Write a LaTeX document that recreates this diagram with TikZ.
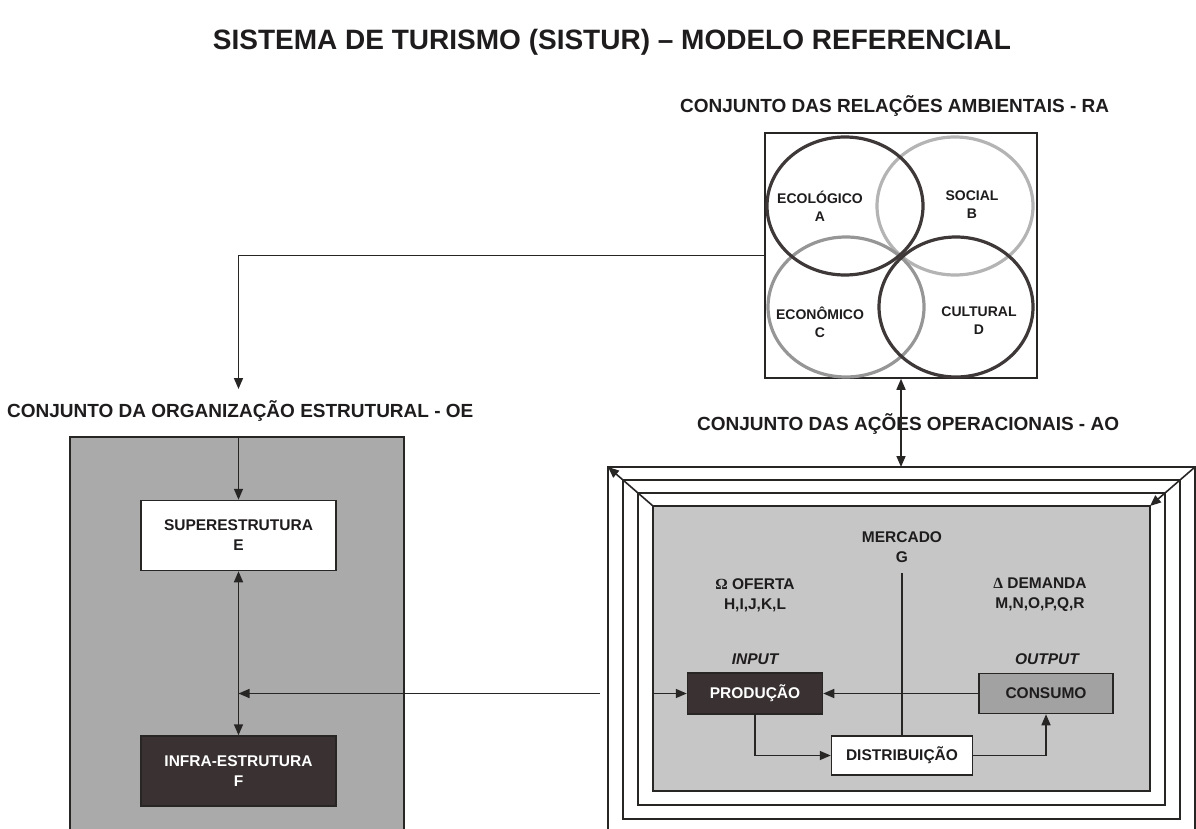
\documentclass[tikz,border=0pt]{standalone}
\usepackage{fontspec}
\setmainfont{Liberation Sans}
\newfontfamily\grkfont{Liberation Serif}
\usetikzlibrary{arrows.meta}

\definecolor{linecol}{RGB}{40,37,37}
\definecolor{txtcol}{RGB}{30,28,28}
\definecolor{oegray}{RGB}{170,170,170}
\definecolor{aogray}{RGB}{198,198,198}
\definecolor{darkbox}{RGB}{58,50,50}
\definecolor{midbox}{RGB}{162,162,162}
\definecolor{ringdark}{RGB}{62,56,56}
\definecolor{ringmid}{RGB}{150,150,150}
\definecolor{ringlight}{RGB}{180,180,180}

\tikzset{
  hd/.style={font=\fontsize{19}{22}\selectfont\bfseries, text=txtcol, inner sep=0pt},
  txt/.style={font=\fontsize{15.5}{20}\selectfont\bfseries, text=txtcol, align=center, inner sep=0pt},
  itxt/.style={font=\fontsize{15.5}{20}\selectfont\bfseries\itshape, text=txtcol, inner sep=0pt},
  ctxt/.style={font=\fontsize{14}{18}\selectfont\bfseries, text=txtcol, align=center, inner sep=0pt},
  bx/.style={draw=linecol, line width=1.5pt, txt},
  ring/.style={line width=3.2pt},
  frame/.style={draw=linecol, line width=1.8pt},
  arr/.style={draw=linecol, line width=1.6pt, -{Triangle[length=11pt,width=9pt]}},
  darr/.style={draw=linecol, line width=1.6pt, {Triangle[length=11pt,width=9pt]}-{Triangle[length=11pt,width=9pt]}},
}

\begin{document}
\begin{tikzpicture}[x=1pt,y=-1pt]
	%%%%% START %%%%%
	\useasboundingbox (0,0) rectangle (1196,829);
	
	\node[font=\fontsize{28}{30}\selectfont\bfseries, text=txtcol] (title) at (612,42) {SISTEMA DE TURISMO (SISTUR) – MODELO REFERENCIAL};
	
	% relacoes ambientais
	\node[hd, anchor=west] (ratitle) at (680,106) {CONJUNTO DAS RELAÇÕES AMBIENTAIS - RA};
	\node[draw=linecol, line width=1.5pt, minimum width=272, minimum height=245, inner sep=0pt] (ra) at (901,255.5) {};
	
	\draw[ring, draw=ringlight] (955,206) ellipse [x radius=78, y radius=69];
	\draw[ring, draw=ringmid] (846,307) ellipse [x radius=78, y radius=70];
	\draw[ring, draw=ringdark] (845,206) ellipse [x radius=78, y radius=69];
	\draw[ring, draw=ringdark] (956,307) ellipse [x radius=77, y radius=70];
	
	\node[ctxt] (ecol) at (820,206) {ECOLÓGICO\\A};
	\node[ctxt] (soc) at (972,205) {SOCIAL\\B};
	\node[ctxt] (econ) at (820,322) {ECONÔMICO\\C};
	\node[ctxt] (cult) at (979,321) {CULTURAL\\D};
	
	% organizacao estrutural
	\node[hd, anchor=west] (oetitle) at (7,411) {CONJUNTO DA ORGANIZAÇÃO ESTRUTURAL - OE};
	\draw[fill=oegray, draw=linecol, line width=1.5pt] (70,437) rectangle (404,850);
	\coordinate (oetop) at (238.5,437);
	\coordinate (oeend) at (238.5,389);
	\draw[arr] (ra.west) -| (oeend);
	
	\node[bx, fill=white, minimum width=195, minimum height=70] (super) at (238.5,535.5) {SUPERESTRUTURA\\E};
	\node[bx, fill=darkbox, text=white, minimum width=195, minimum height=70] (infra) at (238.5,771) {INFRA-ESTRUTURA\\F};
	\draw[arr] (oetop) -- (super.north);
	\draw[darr] (super.south) -- (infra.north);
	
	% acoes operacionais
	\node[hd, anchor=west] (aotitle) at (697,424) {CONJUNTO DAS AÇÕES OPERACIONAIS - AO};
	\draw[frame] (608,467) rectangle (1195,850);
	\draw[frame] (623,480) rectangle (1180,819);
	\draw[frame] (638,493) rectangle (1165,805);
	\draw[frame, fill=aogray] (653,506) rectangle (1150,791);
	
	\coordinate (ao-nw) at (608,467);
	\coordinate (in-nw) at (653,506);
	\coordinate (ao-ne) at (1195,467);
	\coordinate (in-ne) at (1150,506);
	\draw[arr] (in-nw) -- (ao-nw);
	\draw[arr] (ao-ne) -- (in-ne);
	
	\coordinate (aotop) at (901,467);
	\draw[darr] (ra.south) -- (aotop);
	
	\node[txt] (merc) at (902,547) {MERCADO\\G};
	\node[txt] (oferta) at (755,595) {{\grkfont Ω} OFERTA\\H,I,J,K,L};
	\node[txt] (dem) at (1040,595) {{\grkfont Δ} DEMANDA\\M,N,O,P,Q,R};
	\node[itxt] (inp) at (755,659) {INPUT};
	\node[itxt] (outp) at (1047,659) {OUTPUT};
	
	\node[bx, fill=darkbox, text=white, minimum width=135, minimum height=41] (prod) at (755,693.5) {PRODUÇÃO};
	\node[bx, fill=midbox, minimum width=134, minimum height=40] (cons) at (1046,693.5) {CONSUMO};
	\node[bx, fill=white, minimum width=141, minimum height=39] (dist) at (902,755.5) {DISTRIBUIÇÃO};
	
	\coordinate (mtop) at (902,573);
	\draw[draw=linecol, line width=1.6pt] (mtop) -- (dist.north);
	\draw[arr] (cons.west) -- (prod.east);
	\draw[arr] (prod.south) |- (dist.west);
	\draw[arr] (dist.east) -| (cons.south);
	
	\coordinate (aoleft) at (600,693.5);
	\coordinate (oejoin) at (238.5,693.5);
	\coordinate (inw) at (653,693.5);
	\draw[arr] (aoleft) -- (oejoin);
	\draw[arr] (inw) -- (prod.west);
	
	%%%%% END %%%%%
\end{tikzpicture}
\end{document}
